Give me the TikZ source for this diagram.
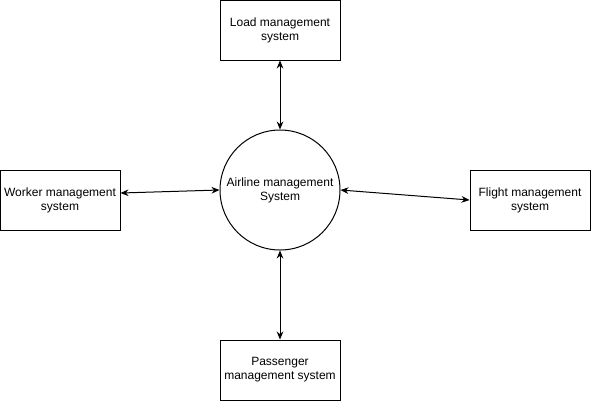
\documentclass[tikz,border=0pt]{standalone}
\usepackage{fontspec}
\setmainfont{Liberation Sans}
\usetikzlibrary{arrows.meta}
\tikzset{
  sysbox/.style={draw=black, line width=0.75pt, minimum width=90pt, minimum height=45pt,
    align=center, inner sep=0pt, font=\fontsize{9}{10.5}\selectfont},
  hub/.style={draw=black, line width=0.75pt, circle, minimum size=90pt,
    align=center, inner sep=0pt, font=\fontsize{9}{10.5}\selectfont},
  link/.style={line width=0.75pt, {Stealth[length=6pt,width=5pt]}-{Stealth[length=6pt,width=5pt]}}
}
\begin{document}
\begin{tikzpicture}[x=0.75pt, y=-0.75pt]
            % page frame, 591 x 401 px
            \useasboundingbox (0,0) rectangle (591,401);
            % central system
            \node[hub] (airline) at (280,190) {Airline management\\System};
            % the four subsystems around it
            \node[sysbox] (load) at (280,30) {Load management\\system};
            \node[sysbox] (worker) at (60,200) {Worker management\\system};
            \node[sysbox] (flight) at (530,200) {Flight management\\system};
            \node[sysbox] (passenger) at (280,370) {Passenger\\management system};
            % two-way links
            \draw[link] (load.south) -- (airline.north);
            \draw[link] ([yshift=5.25pt]worker.east) -- (airline.west);
            \draw[link] (airline.east) -- (flight.west);
            \draw[link] (airline.south) -- (passenger.north);
        \end{tikzpicture}
\end{document}
